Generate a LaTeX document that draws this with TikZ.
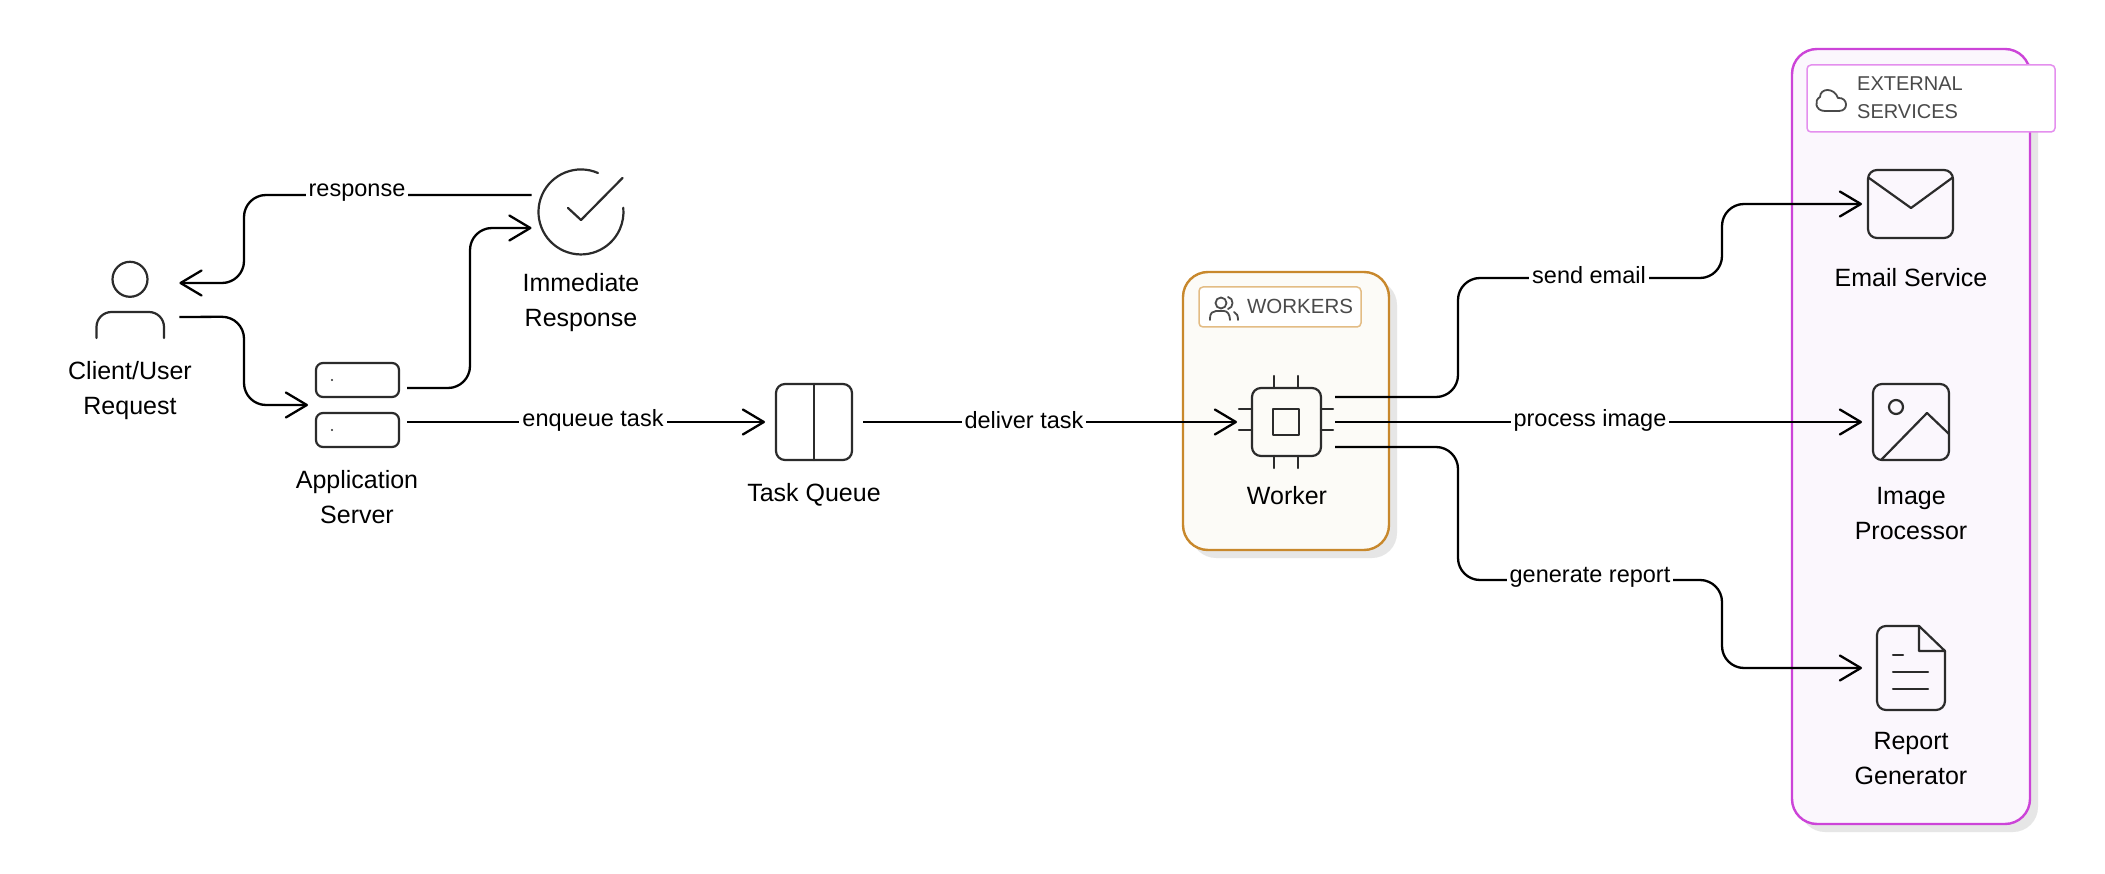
\documentclass[tikz,border=0pt]{standalone}
\usepackage{fontspec}
\setmainfont{Liberation Sans}
\usetikzlibrary{arrows.meta,positioning}
\definecolor{wkstroke}{HTML}{C8882C}
\definecolor{wkfill}{HTML}{FCFBF7}
\definecolor{wklabel}{HTML}{E3BC84}
\definecolor{exstroke}{HTML}{CC44D8}
\definecolor{exfill}{HTML}{FBF7FD}
\definecolor{exlabel}{HTML}{E48FEE}
\definecolor{shadowc}{HTML}{E6E6E6}
\definecolor{icon}{HTML}{2B2B2B}
\definecolor{grouptext}{HTML}{4A4A4A}
\tikzset{
  x=1pt,y=-1pt,
  iconbox/.style={inner sep=0pt,outer sep=0pt,minimum width=#1,minimum height=84pt,draw=none},
  iconline/.style={draw=icon,line width=2.2pt,line cap=round,line join=round},
  conn/.style={draw=black,line width=2.3pt,rounded corners=22pt,
    -{Straight Barb[length=21pt,width=25pt,line width=2.3pt,round]}},
  connlabel/.style={fill=white,inner xsep=3pt,inner ysep=1pt,text=black,font=\fontsize{23.5pt}{28pt}\selectfont},
  title/.style={inner sep=0pt,align=center,text=black,font=\fontsize{25pt}{35pt}\selectfont},
  grouplabeltext/.style={inner sep=0pt,align=left,text=grouptext,font=\fontsize{20pt}{28pt}\selectfont},
  shadowbox/.style={fill=shadowc,rounded corners=25pt},
  panel/.style={inner sep=0pt,outer sep=0pt,rectangle,rounded corners=25pt,line width=2.4pt},
  tag/.style={inner sep=0pt,outer sep=0pt,rectangle,rounded corners=4pt,fill=white,line width=1.5pt},
  groupicon/.style={draw=grouptext,line width=1.8pt,line cap=round,line join=round}
}
\begin{document}
\begin{tikzpicture}
\useasboundingbox (0,0) rectangle (2105,874);
\fill[white] (0,0) rectangle (2105,874);
% containers
\fill[shadowbox] (1191,280) rectangle (1397,558);
\node[panel,draw=wkstroke,fill=wkfill,minimum width=206pt,minimum height=278pt] (workers) at (1286,411) {};
\fill[shadowbox] (1800,57) rectangle (2038,832);
\node[panel,draw=exstroke,fill=exfill,minimum width=238pt,minimum height=775pt] (external) at (1911,436.5) {};
\node[tag,draw=wklabel,minimum width=162pt,minimum height=40pt] (workerstag) at (1280,307) {};
\node[tag,draw=exlabel,minimum width=248pt,minimum height=67pt] (externaltag) at (1931,98.5) {};
\node[grouplabeltext,font=\fontsize{20.5pt}{28pt}\selectfont] (workerstext) at (1300,306) {WORKERS};
\node[grouplabeltext,anchor=west] (externaltext) at (1857,98) {EXTERNAL\\SERVICES};
% group icons
\draw[groupicon] (1221,303) circle[radius=5.5pt];
\draw[groupicon] (1210,320) -- (1210,318) .. controls (1210,313) and (1213,311) .. (1216,311) -- (1224,311) .. controls (1227,311) and (1230,314) .. (1230,320);
\draw[groupicon] (1228,297) .. controls (1234,298) and (1234,308) .. (1228,309);
\draw[groupicon] (1234,312) .. controls (1237,313) and (1238,316) .. (1238,320);
\draw[groupicon] (1825,111) -- (1839,111) .. controls (1849,111) and (1848,97) .. (1838,98) .. controls (1834,87) and (1820,88) .. (1820,97) .. controls (1814,100) and (1815,111) .. (1825,111) -- cycle;
% icon anchors
\node[iconbox=98.8pt] (client) at (130,300) {};
\node[iconbox=99pt] (server) at (357.5,405) {};
\node[iconbox=99pt] (check) at (581,212) {};
\node[iconbox=98pt] (queue) at (814,422) {};
\node[iconbox=98pt] (worker) at (1286,422) {};
\node[iconbox=98pt] (email) at (1911,204) {};
\node[iconbox=98pt] (imageproc) at (1911,422) {};
\node[iconbox=98pt] (report) at (1911,668) {};
% person
\draw[iconline] (130,279.3) circle[radius=17.5pt];
\draw[iconline,rounded corners=15pt] (96.5,338) -- (96.5,312) -- (164,312) -- (164,338);
% server
\draw[iconline,rounded corners=7pt] (316,363) rectangle (399,397);
\draw[iconline,rounded corners=7pt] (316,413) rectangle (399,447);
\fill[icon] (332,380) circle[radius=1.1pt];
\fill[icon] (332,430) circle[radius=1.1pt];
% check
\draw[iconline] (598,173) arc[start angle=66.4,end angle=365.6,radius=42.5pt];
\draw[iconline] (568,208) -- (581,220) -- (622.5,178);
% queue
\draw[iconline,rounded corners=9pt] (776,384) rectangle (852,460);
\draw[iconline] (814,384) -- (814,460);
% chip
\draw[iconline,rounded corners=9pt] (1252,388) rectangle (1321,456);
\draw[iconline] (1273,409) rectangle (1299,435);
\draw[iconline] (1274,376) -- (1274,388) (1298,376) -- (1298,388) (1274,456) -- (1274,468) (1298,456) -- (1298,468);
\draw[iconline] (1239,409) -- (1252,409) (1239,430) -- (1252,430) (1321,409) -- (1333,409) (1321,430) -- (1333,430);
% email
\draw[iconline,rounded corners=9pt] (1868,170) rectangle (1953,238);
\draw[iconline] (1869,178) -- (1911,208) -- (1952,178);
% image
\draw[iconline,rounded corners=9pt] (1873,384) rectangle (1949,460);
\draw[iconline] (1896,407) circle[radius=7pt];
\draw[iconline] (1882,459) -- (1927,413) -- (1949,434);
% document
\draw[iconline,rounded corners=9pt] (1919,626) -- (1877,626) -- (1877,710) -- (1945,710) -- (1945,651);
\draw[iconline] (1919,626) -- (1945,651) -- (1919,651) -- cycle;
\draw[iconline] (1893,655) -- (1903,655) (1893,672) -- (1928,672) (1893,689) -- (1928,689);
% titles
\node[title] (clienttext) at (130,391) {Client/User\\Request};
\node[title] (servertext) at (357,497) {Application\\Server};
\node[title] (checktext) at (581,303) {Immediate\\Response};
\node[title] (queuetext) at (814,495) {Task Queue};
\node[title] (workertext) at (1287,496) {Worker};
\node[title] (emailtext) at (1911,278) {Email Service};
\node[title] (imagetext) at (1911,514) {Image\\Processor};
\node[title] (reporttext) at (1911,759) {Report\\Generator};
% connectors
\draw[conn] ([yshift=17pt]check.west) -- (244,195) -- (244,283) -- node[pos=0,inner sep=0pt] {} ([yshift=17pt]client.east);
\draw[conn] ([yshift=-17pt]client.east) -- (244,316.7) -- (244,405) -- (server.west);
\draw[conn] ([yshift=17pt]server.east) -- (470,388) -- (470,228) -- ([yshift=-16pt]check.west);
\draw[conn] ([yshift=-17pt]server.east) -- (queue.west);
\draw[conn] (queue.east) -- (worker.west);
\draw[conn] ([yshift=25pt]worker.east) -- (1458,397) -- (1458,278) -- (1722,278) -- (1722,204) -- (email.west);
\draw[conn] (worker.east) -- (imageproc.west);
\draw[conn] ([yshift=-25pt]worker.east) -- (1458,447) -- (1458,580) -- (1722,580) -- (1722,668) -- (report.west);
% connector labels
\node[connlabel] (l1) at (357,193) {response};
\node[connlabel] (l2) at (593,420) {enqueue task};
\node[connlabel] (l3) at (1024,420) {deliver task};
\node[connlabel] (l4) at (1589,275) {send email};
\node[connlabel] (l5) at (1590,420) {process image};
\node[connlabel] (l6) at (1590,577) {generate report};
\end{tikzpicture}
\end{document}
